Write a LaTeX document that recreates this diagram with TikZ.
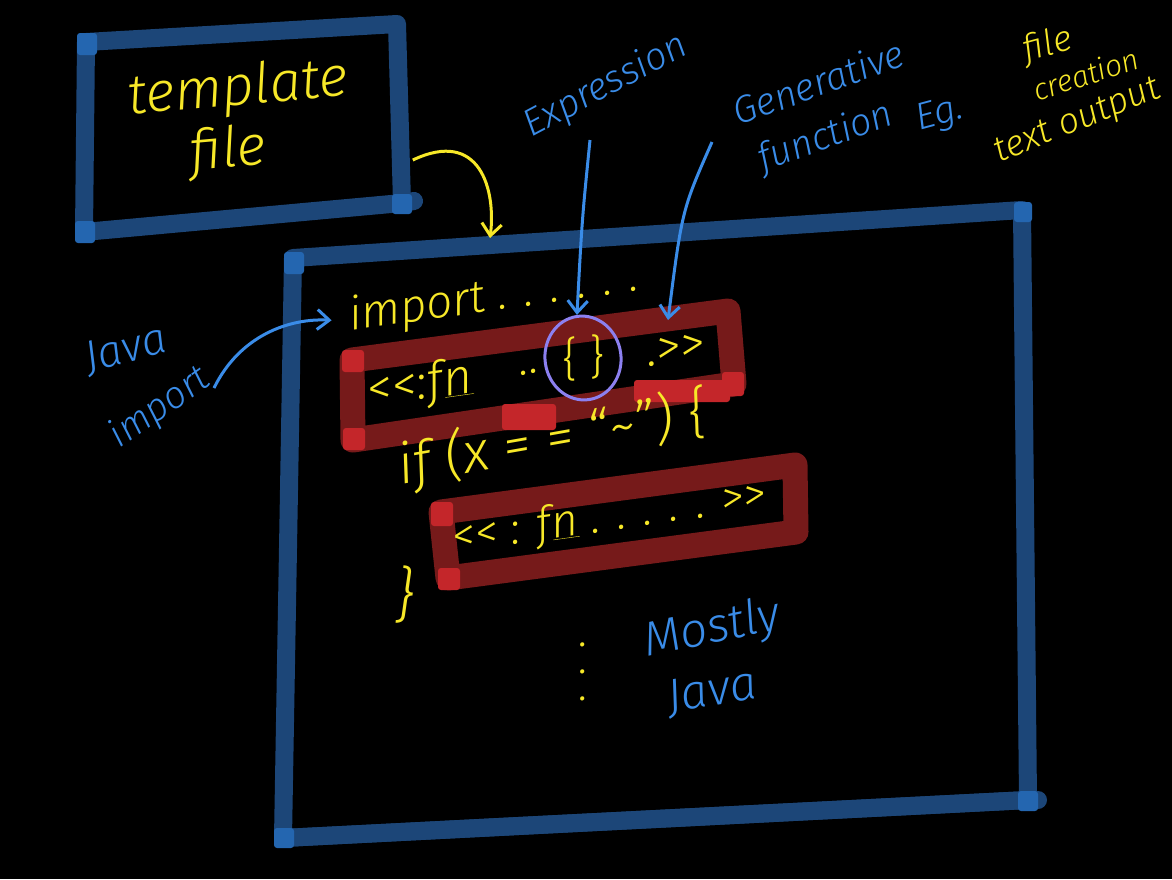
\documentclass[tikz,border=0pt]{standalone}
\usepackage{fontspec}
\setmainfont{Fira Sans}[UprightFont=* Light, ItalicFont=* Light Italic]
\usepackage{xcolor}
\usetikzlibrary{shapes,arrows.meta,calc,positioning}
\definecolor{frameblue}{RGB}{28,70,120}
\definecolor{cornerblue}{RGB}{36,102,176}
\definecolor{inkyellow}{RGB}{247,232,40}
\definecolor{inkblue}{RGB}{58,140,232}
\definecolor{boxred}{RGB}{118,26,26}
\definecolor{cornerred}{RGB}{196,38,42}
\definecolor{inkpurple}{RGB}{140,128,240}
\tikzstyle{bluebox}=[draw=frameblue, line width=18pt, line join=round, line cap=round]
\tikzstyle{redbox}=[draw=boxred, line width=25pt, line join=round]
\tikzstyle{bblob}=[fill=cornerblue, rounded corners=3pt]
\tikzstyle{rblob}=[fill=cornerred, rounded corners=3pt]
\tikzstyle{codetxt}=[text=inkyellow, font=\itshape\fontsize{46}{50}\selectfont, inner sep=0pt]
\tikzstyle{notetxt}=[text=inkblue, font=\itshape\fontsize{38}{42}\selectfont, inner sep=0pt]
\tikzstyle{pen}=[draw=inkblue, line width=3pt, -{Straight Barb[length=12pt,width=20pt]}]

\begin{document}
\begin{tikzpicture}[x=1pt, y=-1pt]
  \fill[black] (0,0) rectangle (1172,879);
  \useasboundingbox (0,0) rectangle (1172,879);
  % template file box
  \coordinate (t1) at (86,42);
  \coordinate (t2) at (397,24);
  \coordinate (t3) at (402,203);
  \coordinate (t4) at (84,232);
  \draw[bluebox] (t1) -- (t2) -- (t3) -- (t4) -- cycle;
  \draw[bluebox] (t3) -- +(12,-2);
  \fill[bblob] ($(t1)+(-9,-9)$) rectangle +(20,22);
  \fill[bblob] ($(t4)+(-9,-11)$) rectangle +(20,22);
  \fill[bblob] ($(t3)+(-10,-9)$) rectangle +(20,20);
  \node[codetxt, font=\itshape\fontsize{56}{60}\selectfont, rotate=5] (tmpl) at (238,90) {template};
  \node[codetxt, font=\itshape\fontsize{56}{60}\selectfont, rotate=5] (tmplfile) at (228,152) {file};
  % main box
  \coordinate (m1) at (293,258);
  \coordinate (m2) at (1022,210);
  \coordinate (m3) at (1028,800);
  \coordinate (m4) at (283,838);
  \draw[bluebox] (m1) -- (m2) -- (m3) -- (m4) -- cycle;
  \draw[bluebox] (m4) -- (m3) -- +(10,0);
  \fill[bblob] ($(m1)+(-9,-6)$) rectangle +(20,22);
  \fill[bblob] ($(m2)+(-8,-8)$) rectangle +(18,20);
  \fill[bblob] ($(m3)+(-10,-9)$) rectangle +(20,20);
  \fill[bblob] ($(m4)+(-9,-10)$) rectangle +(20,20);
  \coordinate (mtop) at (490,238);
  \draw[inkyellow, line width=3pt, -{Straight Barb[length=12pt,width=20pt]}]
    ($(t2)!0.76!(t3)+(12,0)$) .. controls (480,128) and (496,190) .. (mtop);
  % red boxes
  \coordinate (r1) at (352,360);
  \coordinate (r2) at (728,311);
  \coordinate (r3) at (734,384);
  \coordinate (r4) at (353,440);
  \draw[redbox] (r1) -- (r2) -- (r3) -- (r4) -- cycle;
  \fill[rblob] ($(r1)+(-10,-10)$) rectangle +(22,22);
  \fill[rblob] ($(r4)+(-10,-12)$) rectangle +(22,22);
  \fill[rblob] ($(r3)+(-12,-12)$) rectangle +(22,24);
  \fill[rblob] (502,404) rectangle (556,430);
  \fill[rblob] (634,380) rectangle (730,402);
  \coordinate (r5) at (441,512);
  \coordinate (r6) at (795,465);
  \coordinate (r7) at (796,532);
  \coordinate (r8) at (448,578);
  \draw[redbox] (r5) -- (r6) -- (r7) -- (r8) -- cycle;
  \fill[rblob] ($(r5)+(-10,-10)$) rectangle +(22,24);
  \fill[rblob] ($(r8)+(-10,-10)$) rectangle +(22,22);
  % code lines
  \node[codetxt, rotate=8] (imp) at (494,298) {import . . . . . .};
  \node[codetxt, font=\itshape\fontsize{50}{54}\selectfont, rotate=8] (fnA) at (420,386) {<{}<:f\underline{n}};
  \node[codetxt, rotate=8] (fnAdots) at (530,372) {..};
  \node[codetxt, ellipse, draw=inkpurple, line width=3pt, minimum width=76, minimum height=84,
    rotate=8] (brc) at (583,358) {\{ \}};
  \node[codetxt, font=\itshape\fontsize{50}{54}\selectfont, rotate=8] (fnAend) at (676,350) {.>{}>};
  \node[codetxt, font=\itshape\fontsize{56}{60}\selectfont, rotate=10] (ifx) at (552,440)
    {if (x = = “\textasciitilde”) \{};
  \node[codetxt, rotate=8] (fnB) at (610,518) {<{}< : f\underline{n} . . . . . >{}>};
  \node[codetxt, font=\itshape\fontsize{60}{64}\selectfont] (closebr) at (405,595) {\}};
  \node[codetxt, align=center, font=\itshape\fontsize{44}{27}\selectfont] (vdts) at (584,672) {.\\.\\.};
  % notes
  \node[notetxt, rotate=28] (expr) at (606,86) {Expression};
  \node[notetxt, rotate=20] (gen) at (818,82) {Generative};
  \node[notetxt, rotate=20] (genfn) at (826,138) {function};
  \node[notetxt, rotate=15] (eg) at (940,115) {Eg.};
  \node[codetxt, font=\itshape\fontsize{36}{40}\selectfont, rotate=15] (efile) at (1048,46) {file};
  \node[codetxt, font=\itshape\fontsize{30}{34}\selectfont, rotate=18] (ecreate) at (1086,74) {creation};
  \node[codetxt, font=\itshape\fontsize{36}{40}\selectfont, rotate=22] (etext) at (1078,122) {text output};
  \node[notetxt, font=\itshape\fontsize{48}{52}\selectfont, rotate=12] (mostly) at (712,630) {Mostly};
  \node[notetxt, font=\itshape\fontsize{48}{52}\selectfont, rotate=10] (mjava) at (712,692) {Java};
  \node[notetxt, font=\itshape\fontsize{44}{48}\selectfont, rotate=15] (jjava) at (126,350) {Java};
  \node[notetxt, rotate=35] (jimp) at (160,408) {import};
  % pointers
  \coordinate (exprfoot) at (590,140);
  \coordinate (genfoot) at (712,142);
  \coordinate (fnAtop) at (668,320);
  \coordinate (jfoot) at (214,388);
  \draw[pen] (exprfoot) .. controls (582,220) .. (brc.north);
  \draw[pen] (genfoot) .. controls (682,210) .. (fnAtop);
  \draw[pen] (jfoot) .. controls (240,335) and (290,318) .. ($(imp.west)+(-18,2)$);
\end{tikzpicture}
\end{document}
